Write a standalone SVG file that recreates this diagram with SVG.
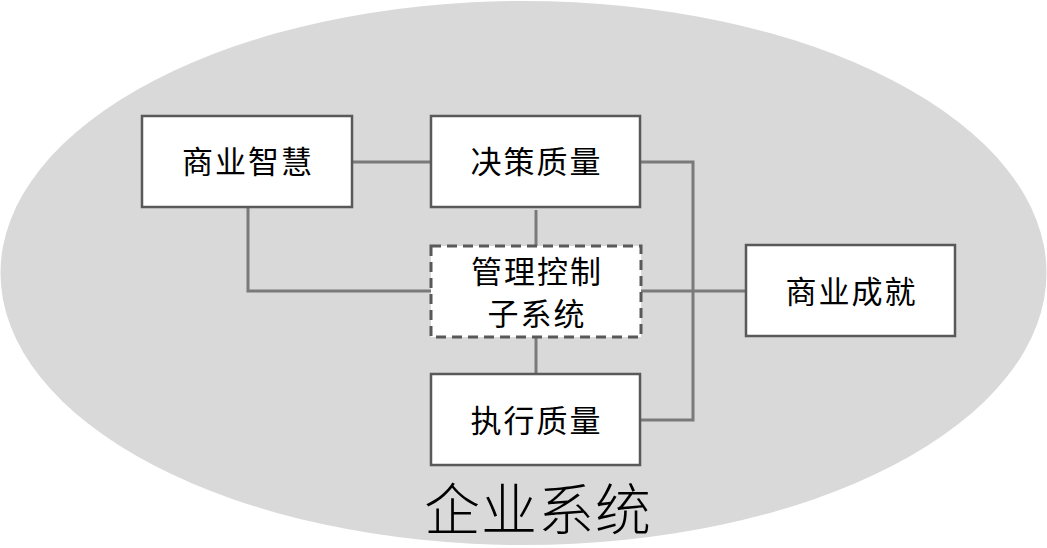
<svg xmlns="http://www.w3.org/2000/svg" width="1047" height="548" viewBox="0 0 1047 548">
<style>
.box{fill:#ffffff;stroke:#595959;stroke-width:2.5}
.dash{fill:#ffffff;stroke:#595959;stroke-width:3;stroke-dasharray:10 6}
.lbl{font-family:"Noto Sans CJK SC","Noto Sans CJK JP",sans-serif;font-size:31px;letter-spacing:2px;fill:#000000;text-anchor:middle}
.conn{fill:none;stroke:#7a7a7a;stroke-width:3}
</style>
<rect width="1047" height="548" fill="#ffffff"/>
<ellipse cx="523.5" cy="273" rx="523" ry="272" fill="#d9d9d9"/>
<g id="connectors">
<line class="conn" x1="352" y1="162" x2="431" y2="162"/>
<polyline class="conn" points="248,207 248,291 431,291"/>
<line class="conn" x1="536" y1="210" x2="536" y2="246"/>
<line class="conn" x1="536" y1="337" x2="536" y2="373"/>
<polyline class="conn" points="640,162 693,162 693,420 640,420"/>
<line class="conn" x1="641" y1="291" x2="746" y2="291"/>
</g>
<g id="n1"><rect class="box" x="142" y="116" width="210" height="91"/><text class="lbl" x="248" y="173">商业智慧</text></g>
<g id="n2"><rect class="box" x="431" y="116" width="209" height="91"/><text class="lbl" x="536.5" y="173">决策质量</text></g>
<g id="n3"><rect class="dash" x="431" y="246" width="210" height="91"/><text class="lbl" x="537" y="283">管理控制</text><text class="lbl" x="537" y="325">子系统</text></g>
<g id="n4"><rect class="box" x="431" y="374" width="209" height="91"/><text class="lbl" x="536.5" y="432">执行质量</text></g>
<g id="n5"><rect class="box" x="746" y="245" width="209" height="91"/><text class="lbl" x="851.5" y="303">商业成就</text></g>
<text x="538" y="530" font-family="Noto Sans CJK SC, sans-serif" font-size="56" font-weight="300" letter-spacing="1" text-anchor="middle" fill="#000000">企业系统</text>
</svg>
